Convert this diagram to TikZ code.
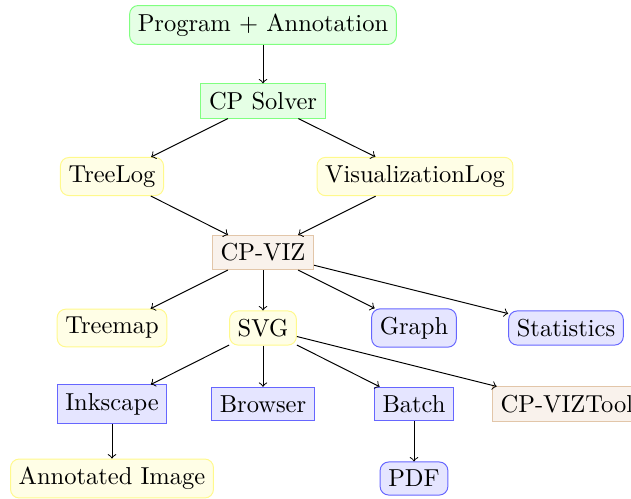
\documentclass[tikz,border=0pt]{standalone}
\begin{document}
\begin{tikzpicture}[x=0.408pt, y=-0.408pt,
  box/.style={draw, rectangle, inner sep=0.333em},
  rbox/.style={box, rounded corners=3.5pt},
  greenbox/.style={draw=green!50, fill=green!10},
  yellowbox/.style={draw=yellow!45, fill=yellow!10},
  bluebox/.style={draw=blue!60, fill=blue!10},
  brownbox/.style={draw=brown!45, fill=brown!10},
  link/.style={->, black}]
\useasboundingbox (0,0) rectangle (631,498);

% inputs and solver
\node[rbox, greenbox] (prog) at (263,25) {Program + Annotation};
\node[box, greenbox] (solver) at (263,101) {CP Solver};

% log files
\node[rbox, yellowbox] (tree) at (112,176.5) {TreeLog};
\node[rbox, yellowbox] (vis) at (415,176.5) {VisualizationLog};

% visualiser
\node[box, brownbox] (cpviz) at (263,252.5) {CP-VIZ};

% outputs of CP-VIZ
\node[rbox, yellowbox] (treemap) at (112,328) {Treemap};
\node[rbox, yellowbox] (svg) at (263,328) {SVG};
\node[rbox, bluebox] (graph) at (414,328) {Graph};
\node[rbox, bluebox] (stats) at (566,328) {Statistics};

% consumers of SVG
\node[box, bluebox] (inkscape) at (112,404) {Inkscape};
\node[box, bluebox] (browser) at (263,404) {Browser};
\node[box, bluebox] (batch) at (414,404) {Batch};
\node[box, brownbox, anchor=west] (tool) at (492,404) {CP-VIZTool};

% final products
\node[rbox, yellowbox] (annot) at (112,478.5) {Annotated Image};
\node[rbox, bluebox] (pdf) at (414,478.5) {PDF};

\draw[link] (prog) -- (solver);
\draw[link] (solver) -- (tree);
\draw[link] (solver) -- (vis);
\draw[link] (tree) -- (cpviz);
\draw[link] (vis) -- (cpviz);
\draw[link] (cpviz) -- (treemap);
\draw[link] (cpviz) -- (svg);
\draw[link] (cpviz) -- (graph);
\draw[link] (cpviz) -- (stats);
\draw[link] (svg) -- (inkscape);
\draw[link] (svg) -- (browser);
\draw[link] (svg) -- (batch);
\draw[link] (svg) -- (tool);
\draw[link] (inkscape) -- (annot);
\draw[link] (batch) -- (pdf);
\end{tikzpicture}
\end{document}
